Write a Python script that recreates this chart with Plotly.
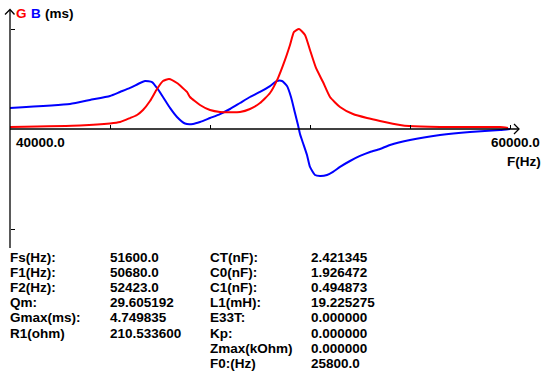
import plotly.graph_objects as go

# ---- data ----
freq_G = [40000, 42800, 44000, 44400, 44800, 45080, 45320, 45600, 45880, 46120, 46360,
          46680, 47080, 47200, 47600, 48000, 48400, 49200, 49600, 50000, 50400, 50720,
          51000, 51200, 51360, 51560, 51800, 52000, 52240, 52520, 52800, 53200, 53720,
          54280, 54800, 55600, 55960, 57200, 59600, 59920]
G_ms = [0.095, 0.166, 0.26, 0.33, 0.52, 0.665, 0.90, 1.33, 1.90, 2.28, 2.375,
        2.185, 1.76, 1.52, 1.14, 0.90, 0.81, 0.81, 0.95, 1.235, 1.71, 2.42,
        3.28, 3.99, 4.61, 4.75, 4.465, 3.75, 2.90, 2.23, 1.52, 1.045, 0.71,
        0.52, 0.38, 0.19, 0.14, 0.095, 0.095, 0.05]

freq_B = [40000, 42400, 43200, 44000, 44400, 44800, 45200, 45400, 45680, 45880, 46120,
          46400, 46680, 47000, 47320, 47600, 48000, 48400, 48800, 49200, 49600, 50000,
          50400, 50680, 50880, 51080, 51240, 51400, 51520, 51600, 51720, 51880, 52000,
          52200, 52400, 52680, 52920, 53200, 53600, 54000, 54400, 54800, 55200, 56000,
          57200, 58400, 59600, 60000]
B_ms = [1.00, 1.19, 1.38, 1.57, 1.76, 1.95, 2.185, 2.28, 2.23, 1.95, 1.52,
        1.00, 0.57, 0.26, 0.24, 0.33, 0.52, 0.71, 0.95, 1.235, 1.52, 1.76,
        2.04, 2.28, 2.28, 2.04, 1.52, 0.76, 0.19, -0.24, -0.665, -1.235, -1.80,
        -2.185, -2.23, -2.185, -2.04, -1.80, -1.52, -1.28, -1.09, -0.95, -0.76, -0.52,
        -0.285, -0.14, -0.05, 0.0]

x_ticks = [44000, 48000, 52000, 56000, 60000]
y_ticks = [4.75, -4.75]
x_min_label = "40000.0"
x_max_label = "60000.0"
x_title = "F(Hz)"

params_left_labels = ["Fs(Hz):", "F1(Hz):", "F2(Hz):", "Qm:", "Gmax(ms):", "R1(ohm)"]
params_left_values = ["51600.0", "50680.0", "52423.0", "29.605192", "4.749835", "210.533600"]
params_right_labels = ["CT(nF):", "C0(nF):", "C1(nF):", "L1(mH):", "E33T:", "Kp:", "Zmax(kOhm)", "F0:(Hz)"]
params_right_values = ["2.421345", "1.926472", "0.494873", "19.225275", "0.000000", "0.000000", "0.000000", "25800.0"]

# ---- layout geometry ----
W, H = 545, 374
X0, X1 = 40000, 60000
AX_X_PX, AX_X1_PX = 10, 510      # pixel of 40000 / 60000
AX_Y_PX = 129                    # pixel row of y = 0
MS_PER_PX = 0.0475
HZ_PER_PX = (X1 - X0) / (AX_X1_PX - AX_X_PX)

x_range = [X0 - AX_X_PX * HZ_PER_PX, X0 + (W - AX_X_PX) * HZ_PER_PX]
y_range = [-(H - AX_Y_PX) * MS_PER_PX, AX_Y_PX * MS_PER_PX]


def dx(px):
    return X0 + (px - AX_X_PX) * HZ_PER_PX


def dy(py):
    return (AX_Y_PX - py) * MS_PER_PX


FONT = "Liberation Sans"
FS = 13.5

fig = go.Figure()
fig.add_trace(go.Scatter(x=freq_B, y=B_ms, mode="lines",
                         line=dict(color="#0000FF", width=2, shape="spline", smoothing=0.5),
                         hoverinfo="skip", showlegend=False))
fig.add_trace(go.Scatter(x=freq_G, y=G_ms, mode="lines",
                         line=dict(color="#FF0000", width=2, shape="spline", smoothing=0.5),
                         hoverinfo="skip", showlegend=False))

line_style = dict(color="black", width=1.3)
shapes = [
    # y axis with arrow
    dict(type="line", xref="x", yref="y", x0=X0, x1=X0, y0=dy(248), y1=dy(10), line=line_style),
    dict(type="path", xref="x", yref="y",
         path=f"M {dx(5)},{dy(14.5)} L {dx(10)},{dy(9.5)} L {dx(14.5)},{dy(14.5)}", line=line_style),
    # x axis with arrow
    dict(type="line", xref="x", yref="y", x0=X0, x1=dx(519), y0=0, y1=0, line=line_style),
    dict(type="path", xref="x", yref="y",
         path=f"M {dx(514)},{dy(124)} L {dx(519)},{dy(129)} L {dx(514)},{dy(134)}", line=line_style),
]

ann = []


def txt(text, px, py, color="black", anchor="left"):
    ann.append(dict(text=text, xref="paper", yref="paper", x=px / W, y=1 - py / H,
                    xanchor=anchor, yanchor="middle", showarrow=False,
                    font=dict(family=FONT, size=FS, color=color, weight="bold")))


txt("G", 14, 13, "#FF0000")
txt("B", 29, 13, "#0000FF")
txt("(ms)", 43, 13)
txt(x_min_label, 14, 142)
txt(x_max_label, 542, 142, anchor="right")
txt(x_title, 543, 162, anchor="right")

row0, dr = 257, 15.2
for i, (lab, val) in enumerate(zip(params_left_labels, params_left_values)):
    txt(lab, 8, row0 + i * dr)
    txt(val, 108, row0 + i * dr)
for i, (lab, val) in enumerate(zip(params_right_labels, params_right_values)):
    txt(lab, 208, row0 + i * dr)
    txt(val, 309, row0 + i * dr)

fig.update_layout(
    width=W, height=H, margin=dict(l=0, r=0, t=0, b=0),
    paper_bgcolor="white", plot_bgcolor="white",
    shapes=shapes, annotations=ann, showlegend=False,
    xaxis=dict(range=x_range, anchor="free", position=(H - AX_Y_PX) / H,
               tickvals=x_ticks, ticks="inside", ticklen=4, tickwidth=1.3, tickcolor="black",
               showticklabels=False, showgrid=False, zeroline=False, showline=False, fixedrange=True),
    yaxis=dict(range=y_range, anchor="free", position=AX_X_PX / W,
               tickvals=y_ticks, ticks="inside", ticklen=4, tickwidth=1.3, tickcolor="black",
               showticklabels=False, showgrid=False, zeroline=False, showline=False, fixedrange=True),
)

fig.write_html("out.html", config={"displayModeBar": False},
               post_script="document.body.style.margin='0';document.body.style.overflow='hidden';")
